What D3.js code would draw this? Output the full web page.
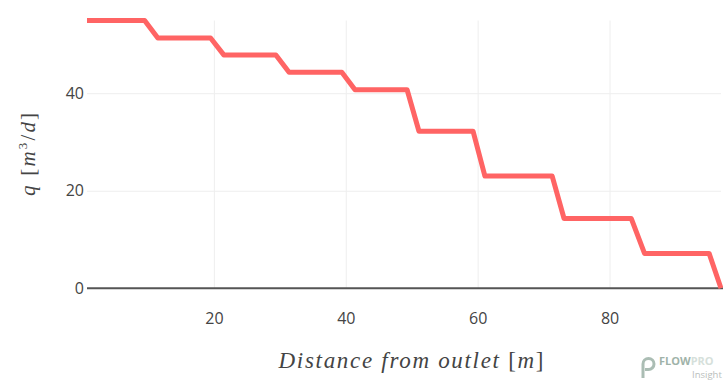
<!DOCTYPE html>
<html>
<head>
<meta charset="utf-8">
<script src="https://cdn.jsdelivr.net/npm/d3@7"></script>
<style>
	body{margin:0;background:#fff;}
	svg{display:block;}
</style>
</head>
<body>
<div id="plot-1"></div>
<script>
//Data: distance from outlet [m] and flow q [m3/d]
const distance = [0.76, 9.5, 11.5, 19.5, 21.5, 29.4, 31.4, 39.4, 41.4, 49.3, 51.1, 59.3, 61.1, 71.3, 73.1, 83.3, 85.3, 95.1, 96.9];
const flow = [54.9, 54.9, 51.3, 51.3, 47.85, 47.85, 44.3, 44.3, 40.7, 40.7, 32.2, 32.2, 23.0, 23.0, 14.3, 14.3, 7.15, 7.15, 0];
const xTicks = [20, 40, 60, 80];
const yTicks = [0, 20, 40];

const w = 723;
const h = 381;
const m = {l: 87, r: 2, t: 20.5, b: 92.7};

const svg = d3.select('#plot-1').append('svg').attr('width', w).attr('height', h);

const x = d3.scaleLinear().domain(d3.extent(distance)).range([m.l, w - m.r]);
const y = d3.scaleLinear().domain([0, d3.max(flow)]).range([h - m.b, m.t]);

const points = distance.map((d, i) => ({x: d, q: flow[i]}));

//Grid
svg.append('g').attr('class', 'grid-x')
	.attr('transform', `translate(0,${h - m.b})`)
	.call(d3.axisBottom(x).tickValues(xTicks).tickSize(-(h - m.b - m.t)).tickFormat(''))
	.call(g => g.select('.domain').remove())
	.selectAll('line').style('stroke', '#eee').style('stroke-width', '1px');

svg.append('g').attr('class', 'grid-y')
	.attr('transform', `translate(${m.l},0)`)
	.call(d3.axisLeft(y).tickValues(yTicks.filter(d => d !== 0)).tickSize(-(w - m.l - m.r)).tickFormat(''))
	.call(g => g.select('.domain').remove())
	.selectAll('line').style('stroke', '#eee').style('stroke-width', '1px');

//Tick labels
const xAxis = svg.append('g')
	.attr('transform', `translate(0,${h - m.b})`)
	.call(d3.axisBottom(x).tickValues(xTicks).tickSize(0).tickPadding(24));
xAxis.select('.domain').remove();
xAxis.selectAll('text')
	.style('font-family', '"Open Sans", sans-serif')
	.style('font-size', '16px')
	.style('fill', '#444');

const yAxis = svg.append('g')
	.attr('transform', `translate(${m.l},0)`)
	.call(d3.axisLeft(y).tickValues(yTicks).tickSize(0).tickPadding(3));
yAxis.select('.domain').remove();
yAxis.selectAll('text')
	.style('font-family', '"Open Sans", sans-serif')
	.style('font-size', '16px')
	.style('fill', '#444');

//Zero line
svg.append('line')
	.attr('x1', m.l).attr('x2', w)
	.attr('y1', y(0)).attr('y2', y(0))
	.style('stroke', '#555')
	.style('stroke-width', '2px');

//Flow line
const line = d3.line().x(d => x(d.x)).y(d => y(d.q));
svg.append('path')
	.datum(points)
	.attr('d', line)
	.style('fill', 'none')
	.style('stroke', '#ff6464')
	.style('stroke-width', '5px')
	.style('stroke-linejoin', 'round');

//Axis titles (math style: italic letters, upright brackets)
const xTitle = svg.append('text')
	.attr('x', 411)
	.attr('y', 368)
	.attr('text-anchor', 'middle')
	.attr('textLength', 265)
	.attr('lengthAdjust', 'spacing')
	.style('font-family', '"Liberation Serif", serif')
	.style('font-size', '23px')
	.style('fill', '#444');
xTitle.append('tspan').style('font-style', 'italic').text('Distance from outlet ');
xTitle.append('tspan').text('[');
xTitle.append('tspan').style('font-style', 'italic').text('m');
xTitle.append('tspan').text(']');

const yTitle = svg.append('text')
	.attr('transform', `translate(35,${(m.t + h - m.b) / 2}) rotate(-90)`)
	.attr('text-anchor', 'middle')
	.attr('textLength', 83)
	.attr('lengthAdjust', 'spacing')
	.style('font-family', '"Liberation Serif", serif')
	.style('font-size', '21px')
	.style('fill', '#444');
yTitle.append('tspan').style('font-style', 'italic').text('q ');
yTitle.append('tspan').text('[');
yTitle.append('tspan').style('font-style', 'italic').text('m');
yTitle.append('tspan').attr('dy', -8).style('font-size', '13px').text('3');
yTitle.append('tspan').attr('dy', 8).text('/');
yTitle.append('tspan').style('font-style', 'italic').text('d');
yTitle.append('tspan').text(']');

//Watermark logo in the bottom right corner
const logo = svg.append('g').style('opacity', 0.75);
logo.append('path')
	.attr('d', 'M643,378 L643,364 A5.5,5.5 0 1 1 648.5,369.5 L645,369.5')
	.style('fill', 'none')
	.style('stroke', '#8fa89c')
	.style('stroke-width', '3px');
logo.append('text')
	.attr('x', 659).attr('y', 365)
	.style('font-family', '"Open Sans", sans-serif')
	.style('font-weight', 'bold')
	.style('font-size', '11px')
	.style('fill', '#7f9a8d')
	.text('FLOW')
	.append('tspan').style('fill', '#c9d6cf').text('PRO');
logo.append('text')
	.attr('x', 692).attr('y', 378)
	.style('font-family', '"Open Sans", sans-serif')
	.style('font-size', '9.5px')
	.style('fill', '#a3a9a6')
	.text('Insight');
</script>
</body>
</html>
